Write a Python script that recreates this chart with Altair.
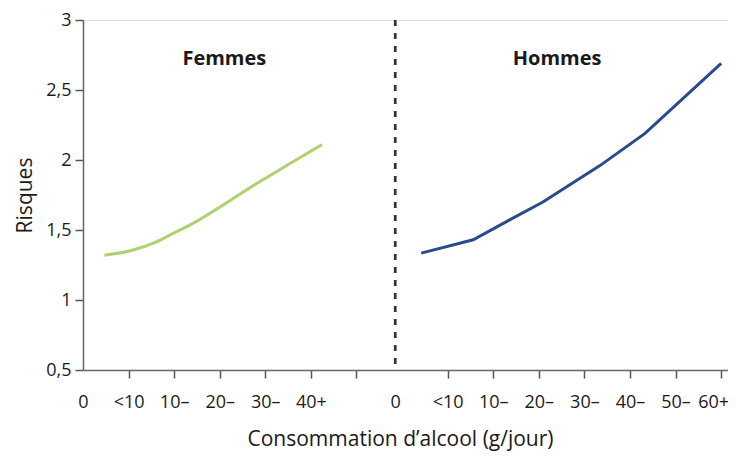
import altair as alt
import pandas as pd

# --- data ---
femmes_x = [0.47, 1.02, 1.61, 1.97, 2.34, 3.80, 5.24]
femmes_y = [1.32, 1.35, 1.415, 1.475, 1.535, 1.83, 2.11]
hommes_x = [7.42, 8.56, 9.29, 10.09, 11.34, 12.33, 14.0]
hommes_y = [1.335, 1.43, 1.56, 1.70, 1.96, 2.19, 2.69]

tick_pos = [1, 2, 3, 4, 5, 6, 8, 9, 10, 11, 12, 13, 14]
label_pos = [0, 1, 2, 3, 4, 5, 6.85, 8, 9, 10, 11, 12, 13, 14]
label_txt = ["0", "<10", "10–", "20–", "30–", "40+",
             "0", "<10", "10–", "20–", "30–", "40–", "50–", "60+"]
separator = 6.85
groups = ["Femmes", "Hommes"]
group_center = [3.1, 10.4]
y_ticks = [0.5, 1, 1.5, 2, 2.5, 3]

FONT = "Open Sans"
TXT = "#1a1a1a"

fem = pd.DataFrame({"x": femmes_x, "y": femmes_y})
hom = pd.DataFrame({"x": hommes_x, "y": hommes_y})

all_vals = sorted(set(tick_pos + label_pos))
arr_pos = "[" + ",".join(str(v) for v in label_pos) + "]"
arr_txt = "[" + ",".join("'" + t + "'" for t in label_txt) + "]"
label_expr = f"indexof({arr_pos}, datum.value) >= 0 ? {arr_txt}[indexof({arr_pos}, datum.value)] : ''"
tick_list = "[" + ",".join(str(v) for v in tick_pos) + "]"
last = max(label_pos)

xscale = alt.Scale(domain=[0, 14.15], nice=False, zero=False)
yscale = alt.Scale(domain=[0.5, 3], nice=False, zero=False)

xaxis = alt.Axis(
    values=all_vals, labelExpr=label_expr,
    tickOpacity={"condition": {"test": f"indexof({tick_list}, datum.value) < 0", "value": 0}, "value": 1},
    labelOffset={"condition": {"test": f"datum.value == {last}", "value": -8}, "value": 0},
    tickSize=8, tickColor="#555", tickWidth=1.5,
    domainColor="#666", domainWidth=1.5,
    labelFont=FONT, labelFontSize=18, labelColor=TXT, labelPadding=15,
    labelFlush=False, labelOverlap=False, grid=False,
    title="Consommation d’alcool (g/jour)", titleFont=FONT, titleFontSize=21,
    titleFontWeight="normal", titleColor=TXT,
    titleX=317, titleY=69, titleBaseline="middle", titleAnchor="middle", titleAlign="center",
)
yaxis = alt.Axis(
    values=y_ticks, labelExpr="replace(toString(datum.value), '.', ',')",
    tickSize=8, tickColor="#555", tickWidth=1.5,
    domainColor="#666", domainWidth=1.5,
    labelFont=FONT, labelFontSize=18, labelColor=TXT, labelPadding=4,
    grid=False,
    title="Risques", titleFont=FONT, titleFontSize=21, titleFontWeight="normal",
    titleColor=TXT, titleX=-58, titleY=175, titleAngle=-90,
    titleBaseline="middle", titleAlign="center",
)

line_f = alt.Chart(fem).mark_line(strokeWidth=3, interpolate="monotone", color="#afd16f").encode(
    x=alt.X("x:Q", scale=xscale, axis=xaxis),
    y=alt.Y("y:Q", scale=yscale, axis=yaxis),
)
line_h = alt.Chart(hom).mark_line(strokeWidth=3, color="#2a4a8e").encode(
    x=alt.X("x:Q", scale=xscale),
    y=alt.Y("y:Q", scale=yscale),
)

rule = alt.Chart(pd.DataFrame({"x": [separator]})).mark_rule(
    strokeDash=[6, 7], strokeWidth=2.7, color="#333"
).encode(x=alt.X("x:Q", scale=xscale))

titles = alt.Chart(pd.DataFrame({"g": groups, "x": group_center, "y": [2.72, 2.72]})).mark_text(
    font=FONT, fontSize=20, fontWeight="bold", color=TXT, baseline="middle"
).encode(x=alt.X("x:Q", scale=xscale), y=alt.Y("y:Q", scale=yscale), text="g:N")

chart = alt.layer(rule, line_f, line_h, titles).properties(
    width=645, height=350,
    autosize=alt.AutoSizeParams(type="none"),
    padding={"left": 75, "top": 12, "right": 0, "bottom": 87},
).configure_view(stroke=None).configure(background="white")

chart.save("out.html", embed_options={"renderer": "svg", "actions": False})
